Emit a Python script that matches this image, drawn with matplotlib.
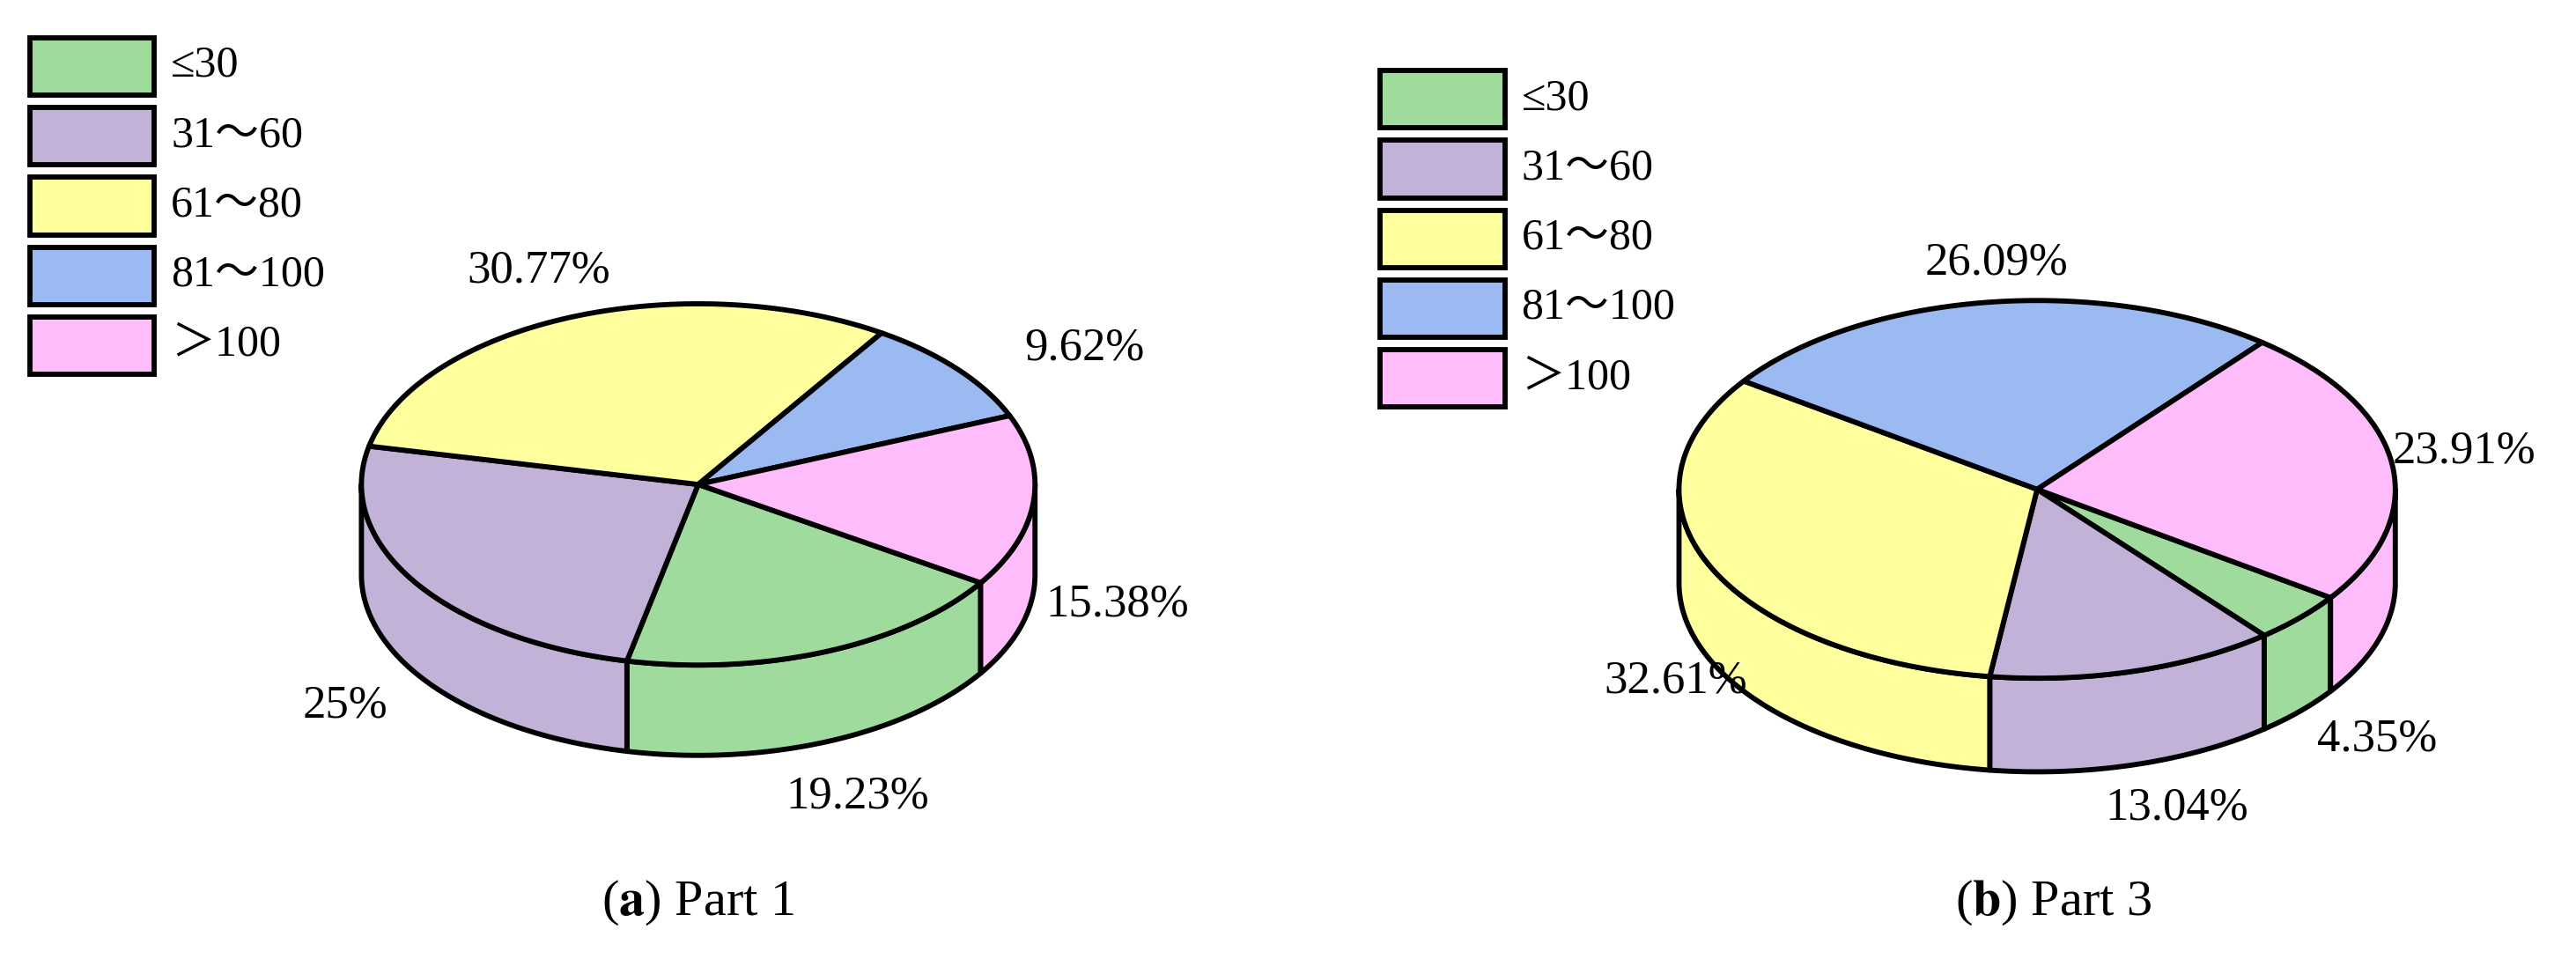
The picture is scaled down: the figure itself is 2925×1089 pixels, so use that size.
import numpy as np
import matplotlib

matplotlib.use("Agg")
import matplotlib.pyplot as plt
from matplotlib.patches import Polygon, Rectangle

categories = ["≤30", "31～60", "61～80", "81～100", "＞100"]
colors = ["#9FDB9C", "#C3B2D8", "#FFFF9E", "#9BBAF2", "#FFBCFA"]
part1_values = [19.23, 25, 30.77, 9.62, 15.38]
part3_values = [4.35, 13.04, 32.61, 26.09, 23.91]
part1_labels = ["19.23%", "25%", "30.77%", "9.62%", "15.38%"]
part3_labels = ["4.35%", "13.04%", "32.61%", "26.09%", "23.91%"]

W, H = 1568, 584
LW = 4.2
FONT = ["Liberation Serif", "Noto Sans CJK SC", "DejaVu Serif"]


def rim(cx, cy, rx, ry, t, dy=0):
    r = np.radians(t)
    return np.column_stack([cx + rx * np.cos(r), cy - ry * np.sin(r) + dy])


def draw_pie(ax, values, labels, cx, cy, rx, ry, depth, start, label_pos):
    fracs = np.array(values) / np.sum(values)
    bounds = start - 360 * np.concatenate([[0], np.cumsum(fracs)])
    # side walls (front half only)
    for i in range(len(values)):
        a0, a1 = bounds[i + 1], bounds[i]
        for f0, f1 in [(-180, 0), (-540, -360)]:
            lo, hi = max(a0, f0), min(a1, f1)
            if hi <= lo:
                continue
            t = np.linspace(lo, hi, 80)
            top = rim(cx, cy, rx, ry, t)
            bot = rim(cx, cy, rx, ry, t[::-1], depth)
            ax.add_patch(Polygon(np.vstack([top, bot]), closed=True,
                                 facecolor=colors[i], edgecolor="black", lw=LW,
                                 joinstyle="round"))
    # top face
    for i in range(len(values)):
        t = np.linspace(bounds[i + 1], bounds[i], 200)
        pts = np.vstack([[cx, cy], rim(cx, cy, rx, ry, t)])
        ax.add_patch(Polygon(pts, closed=True, facecolor=colors[i],
                             edgecolor="black", lw=LW, joinstyle="round"))
    for lab, (x, y) in zip(labels, label_pos):
        ax.text(x, y, lab, fontsize=38, family=FONT, ha="center", va="center")


def draw_legend(ax, x0, y0):
    for i, (cat, c) in enumerate(zip(categories, colors)):
        y = y0 + i * 42.5
        ax.add_patch(Rectangle((x0, y - 17), 76, 35, facecolor=c,
                               edgecolor="black", lw=LW))
        ax.text(x0 + 86, y, cat, fontsize=36, family=FONT, ha="left", va="center")


fig = plt.figure(figsize=(29.25, 10.89), dpi=100)
ax = fig.add_axes([0, 0, 1, 1])
ax.set_xlim(0, W)
ax.set_ylim(H, 0)
ax.axis("off")

draw_pie(ax, part1_values, part1_labels, 425, 295, 205, 110, 55, -33,
         [(522, 485), (210, 430), (328, 165), (660, 212), (680, 368)])
draw_pie(ax, part3_values, part3_labels, 1240, 298, 218, 115, 57, -35,
         [(1447, 450), (1325, 492), (1020, 415), (1215, 160), (1500, 275)])
draw_legend(ax, 18, 40)
draw_legend(ax, 840, 60)

ax.text(425, 550, r"($\mathbf{a}$) Part 1", fontsize=42, family=FONT,
        ha="center", va="center", math_fontfamily="stix")
ax.text(1250, 550, r"($\mathbf{b}$) Part 3", fontsize=42, family=FONT,
        ha="center", va="center", math_fontfamily="stix")

fig.savefig("out.png", dpi=100)
